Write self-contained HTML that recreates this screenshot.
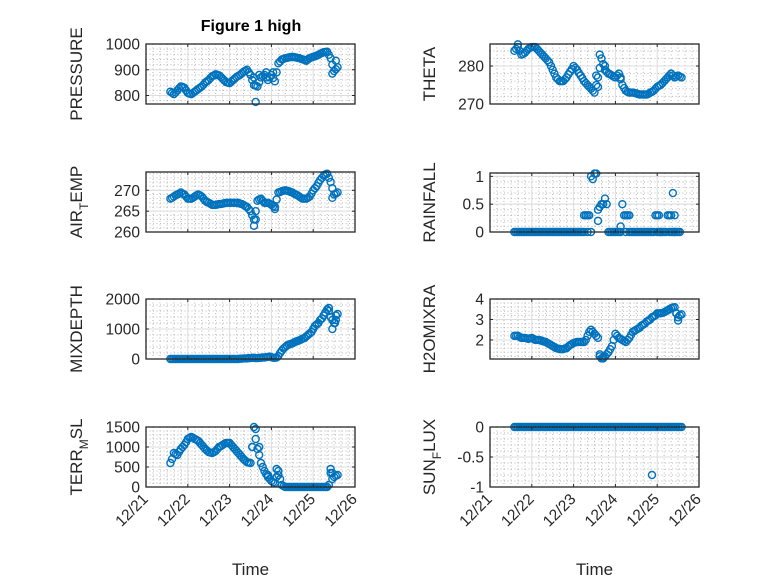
<!DOCTYPE html>
<html><head><meta charset="utf-8">
<style>
html,body{margin:0;padding:0;background:#fff;}
svg{display:block;font-family:"Liberation Sans","DejaVu Sans",sans-serif;}
</style></head>
<body>
<svg id="fig" width="778" height="583" viewBox="0 0 778 583">
<rect width="778" height="583" fill="#fff"/>
<text x="251" y="31" text-anchor="middle" font-size="16" font-weight="bold" fill="#000">Figure 1 high</text>
</svg>
<script>
// hours since 12/21 00:00
const times = [14,15,16,17,18,19,20,21,22,23,24,25,26,27,28,29,30,31,32,33,34,35,36,37,38,39,40,41,42,43,44,45,46,47,48,49,50,51,52,53,54,55,56,57,58,59,60,61,62,63,64,65,66,67,68,69,70,71,72,73,74,75,76,77,78,79,80,81,82,83,84,85,86,87,88,89,90,91,92,93,94,95,96,97,98,99,100,101,102,103,104,105,106,107,108,109,110];
const xTickLabels = ["12/21","12/22","12/23","12/24","12/25","12/26"];

const pressure = [815,810,805,812,820,828,835,833,830,820,810,807,805,810,815,820,825,830,835,842,850,855,860,868,875,878,882,880,878,872,865,858,852,850,848,854,860,866,872,876,880,886,892,896,900,890,880,860,840,838,835,852,870,875,880,870,860,870,880,868,855,890,925,932,940,942,945,946,948,949,950,949,948,946,945,942,940,938,935,940,945,948,950,952,955,958,962,965,968,969,970,958,945,920,895,902,910];
const pressureExtra = [[63,775],[62,870],[65,880],[69,890],[73,890],[107,885],[109,935]];
const airTemp = [268,268.2,268.5,268.8,269,269.2,269.5,269.2,269,268.5,268,268,268,268.2,268.5,268.8,269,268.8,268.5,268,267.5,267.2,267,266.8,266.5,266.5,266.5,266.6,266.7,266.7,266.8,266.9,267,267,267,267,267,267,267,267,266.8,266.7,266.5,266.2,266,265.5,265,264,263,265,267.5,267.8,268,267.5,267,267,267,266.8,266.5,266.2,266,267.8,269.5,269.6,269.8,269.9,270,269.9,269.8,269.6,269.5,269.2,269,268.8,268.5,268.2,268,268,268,268.2,268.5,269.2,270,270.5,271,271.8,272.5,273,273.5,273.8,274,273,272,270.5,269,269.2,269.5];
const airTempExtra = [[62,261.5],[63,263],[74,265.5],[107,268.2]];
const theta = [284,284.5,285,284,283,283.2,283.5,284,284.5,284.8,285,285,285,284.5,284,283.5,283,282.5,282,281.5,281,280,279,278,277,276.5,276,276,276,276.5,277,277.8,278.5,279.2,280,279.5,279,278.2,277.5,276.8,276,275.5,275,274.5,274,273.5,273,275,277,279.5,282,280.5,279,278.5,278,277.8,277.5,277.2,277,277.5,278,276.5,275,274.2,273.5,273.2,273,273,273,272.9,272.8,272.6,272.5,272.5,272.5,272.5,272.5,272.7,273,273.2,273.5,274,274.5,274.8,275,275.5,276,276.5,277,277.5,278,277.5,277,277.2,277.5,277.2,277];
const thetaExtra = [[63,283],[62,274.5],[61,277.5],[66,280],[75,277],[16,285.7]];
const rainfall = [0,0,0,0,0,0,0,0,0,0,0,0,0,0,0,0,0,0,0,0,0,0,0,0,0,0,0,0,0,0,0,0,0,0,0,0,0,0,0,0,0.3,0.3,0.3,0.3,1.0,0.95,1.05,1.05,0.4,0.45,0.5,0.5,0.6,0.5,0,0,0,0,0,0,0,0,0.5,0.3,0.3,0.3,0.3,0,0,0,0,0,0,0,0,0,0,0,0,0,0,0.3,0.3,0.3,0,0,0,0,0.3,0.3,0.3,0.7,0,0,0,0];
const rainfallExtra = [[54,0],[56,0],[58,0],[62,0.2],[75,0.1],[78,0],[80,0],[96,0],[97,0],[98,0],[103,0],[104,0],[105,0],[106,0],[106,0.3]];
const mixDepth = [0,0,0,0,0,0,0,0,0,0,0,0,0,0,0,0,0,0,0,0,0,0,0,0,0,0,0,0,0,0,0,0,0,0,0,0,0,0,0,0,10,10,20,20,20,30,30,40,40,30,30,40,40,50,50,60,70,80,60,40,40,50,100,200,280,350,400,450,480,500,520,550,580,600,620,650,680,700,750,800,850,900,1000,1100,1150,1200,1300,1350,1450,1550,1650,1700,1400,1000,1200,1450,1500];
const mixDepthExtra = [[107,1300],[108.5,1200],[109,1300],[105,1600]];
const h2oMix = [2.2,2.2,2.2,2.15,2.1,2.1,2.1,2.08,2.05,2.08,2.1,2.05,2.0,2.0,2.0,1.98,1.95,1.92,1.9,1.85,1.8,1.75,1.7,1.65,1.6,1.58,1.55,1.55,1.55,1.58,1.6,1.68,1.75,1.8,1.85,1.88,1.9,1.9,1.9,1.9,1.9,2.0,2.2,2.4,2.5,2.4,2.3,2.2,2.1,1.2,1.1,1.15,1.2,1.3,1.4,1.55,1.7,2.0,2.3,2.2,2.1,2.05,2.0,1.95,1.9,2.0,2.1,2.25,2.4,2.45,2.5,2.55,2.6,2.7,2.75,2.8,2.9,2.95,3.0,3.1,3.15,3.2,3.3,3.3,3.3,3.32,3.35,3.4,3.45,3.5,3.55,3.58,3.6,3.3,3.1,3.2,3.25];
const h2oMixExtra = [[63,1.3],[65,1.1],[66,1.2],[107,3.3],[108,2.95]];
const terrMsl = [600,700,850,820,800,880,950,1000,1050,1120,1200,1230,1250,1230,1200,1180,1150,1100,1050,1000,950,910,870,860,850,870,900,950,1000,1020,1050,1080,1100,1100,1100,1050,1000,950,900,850,800,750,700,660,620,610,600,1000,1500,1200,950,800,600,500,400,320,250,200,150,120,100,250,400,200,50,20,0,0,0,0,0,0,0,0,0,0,0,0,0,0,0,0,0,0,0,0,0,0,0,0,0,50,450,350,250,280,300];
const terrMslExtra = [[61,1000],[63,1450],[65,1000],[70,300],[75,450],[76,300],[106,350],[107,200]];
const sunFlux = [0,0,0,0,0,0,0,0,0,0,0,0,0,0,0,0,0,0,0,0,0,0,0,0,0,0,0,0,0,0,0,0,0,0,0,0,0,0,0,0,0,0,0,0,0,0,0,0,0,0,0,0,0,0,0,0,0,0,0,0,0,0,0,0,0,0,0,0,0,0,0,0,0,0,0,0,0,0,0,0,0,0,0,0,0,0,0,0,0,0,0,0,0,0,0,0,0];
const sunFluxExtra = [[93,-0.8]];

const NS = "http://www.w3.org/2000/svg";
const svg = document.getElementById('fig');
const C = "#0072BD", AX = "#262626";
function mk(tag, attrs, parent){
  const e = document.createElementNS(NS, tag);
  for (const k in attrs) e.setAttribute(k, attrs[k]);
  (parent||svg).appendChild(e); return e;
}

const panels = [
  {key:"pressure", vals:pressure, extra:pressureExtra, x0:146, y0:44, y1:104, ymin:767, ymax:1000, ticks:[800,900,1000], minor:20, lx:82, label:["PRESSURE"]},
  {key:"air-temp", vals:airTemp, extra:airTempExtra, x0:146, y0:172, y1:232, ymin:260, ymax:274.4, ticks:[260,265,270], minor:1, lx:82, label:["AIR","T","EMP"]},
  {key:"mixdepth", vals:mixDepth, extra:mixDepthExtra, x0:146, y0:299, y1:359, ymin:0, ymax:2000, ticks:[0,1000,2000], minor:200, lx:82, label:["MIXDEPTH"]},
  {key:"terr-msl", vals:terrMsl, extra:terrMslExtra, x0:146, y0:427, y1:487, ymin:0, ymax:1500, ticks:[0,500,1000,1500], minor:100, lx:82, label:["TERR","M","SL"]},
  {key:"theta", vals:theta, extra:thetaExtra, x0:490, y0:44, y1:104, ymin:270, ymax:285.8, ticks:[270,280], minor:2, lx:435, label:["THETA"]},
  {key:"rainfall", vals:rainfall, extra:rainfallExtra, x0:490, y0:173, y1:232, ymin:0, ymax:1.06, ticks:[0,0.5,1], minor:0.1, lx:435, label:["RAINFALL"]},
  {key:"h2omixra", vals:h2oMix, extra:h2oMixExtra, x0:490, y0:299, y1:359, ymin:1.07, ymax:4, ticks:[2,3,4], minor:0.2, lx:435, label:["H2OMIXRA"]},
  {key:"sun-flux", vals:sunFlux, extra:sunFluxExtra, x0:490, y0:427, y1:487, ymin:-1, ymax:0, ticks:[-1,-0.5,0], minor:0.1, lx:435, label:["SUN","F","LUX"]}
];
const W = 209, HOURS = 120;

panels.forEach((p, pi) => {
  const g = mk('g', {});
  
  
  const xs = h => p.x0 + h / HOURS * W;
  const ys = v => p.y1 - (v - p.ymin) / (p.ymax - p.ymin) * (p.y1 - p.y0);
  for (let h = 4; h < HOURS; h += 4) {
    if (h % 24 === 0) continue;
    mk('line', {x1:xs(h), x2:xs(h), y1:p.y0, y2:p.y1, stroke:"#b8b8b8", "stroke-width":1, "stroke-dasharray":"1,2.5"}, g);
  }
  const start = Math.ceil(p.ymin / p.minor - 1e-6);
  for (let k = start; k * p.minor <= p.ymax + 1e-9; k++) {
    const v = k * p.minor;
    mk('line', {x1:p.x0, x2:p.x0 + W, y1:ys(v), y2:ys(v), stroke:"#b8b8b8", "stroke-width":1, "stroke-dasharray":"1,2.5"}, g);
  }
  for (let d = 1; d < 5; d++) mk('line', {x1:xs(d*24), x2:xs(d*24), y1:p.y0, y2:p.y1, stroke:"#dcdcdc", "stroke-width":1}, g);
  p.ticks.forEach(v => mk('line', {x1:p.x0, x2:p.x0 + W, y1:ys(v), y2:ys(v), stroke:"#dcdcdc", "stroke-width":1}, g));
  const pts = times.map((t, i) => [t, p.vals[i]]).concat(p.extra);
  pts.forEach(([t, v]) => {
    if (typeof v !== 'number' || !isFinite(v) || v < p.ymin - 1e-9 || v > p.ymax + 1e-9) return;
    const c = mk('circle', {cx:xs(t), cy:ys(v), r:3.5, fill:"none", stroke:C, "stroke-width":1.4}, g);
    
    
  });
  mk('rect', {x:p.x0, y:p.y0, width:W, height:p.y1 - p.y0, fill:"none", stroke:AX, "stroke-width":1.3}, g);
  for (let d = 1; d < 5; d++) {
    mk('line', {x1:xs(d*24), x2:xs(d*24), y1:p.y1, y2:p.y1 - 3, stroke:AX}, g);
    mk('line', {x1:xs(d*24), x2:xs(d*24), y1:p.y0, y2:p.y0 + 3, stroke:AX}, g);
  }
  p.ticks.forEach(v => {
    mk('line', {x1:p.x0, x2:p.x0 + 3, y1:ys(v), y2:ys(v), stroke:AX}, g);
    mk('line', {x1:p.x0 + W, x2:p.x0 + W - 3, y1:ys(v), y2:ys(v), stroke:AX}, g);
    const t = mk('text', {x:p.x0 - 6, y:ys(v) + 5.5, "text-anchor":"end", "font-size":15.5, fill:AX}, g);
    t.textContent = String(v);
    
    
  });
  const cy = (p.y0 + p.y1) / 2;
  const lab = mk('text', {x:p.lx, y:cy, "text-anchor":"middle", "font-size":17, fill:AX, transform:`rotate(-90 ${p.lx} ${cy})`}, g);
  
  
  if (p.label.length === 1) lab.textContent = p.label[0];
  else {
    const a = mk('tspan', {}, lab); a.textContent = p.label[0];
    const b = mk('tspan', {dy:6, "font-size":12}, lab); b.textContent = p.label[1];
    const c = mk('tspan', {dy:-6}, lab); c.textContent = p.label[2];
  }
  if (pi === 3 || pi === 7) {
    xTickLabels.forEach((s, d) => {
      const x = xs(d * 24) + 3, y = p.y1 + 13;
      const t = mk('text', {x:x, y:y, "text-anchor":"end", "font-size":15.5, fill:AX, transform:`rotate(-45 ${x} ${y})`}, g);
      t.textContent = s;
      
      
    });
    const xt = mk('text', {x:p.x0 + W / 2, y:575, "text-anchor":"middle", "font-size":17, fill:AX}, g);
    xt.textContent = "Time";
    
    
  }
});
</script>
</body></html>
